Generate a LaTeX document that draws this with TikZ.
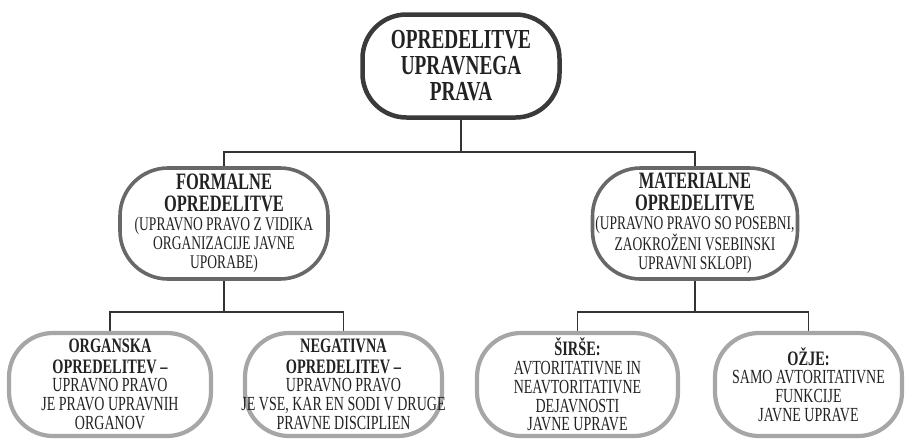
\documentclass[tikz,border=0pt]{standalone}
\usepackage{fontspec}
\setmainfont{Liberation Serif}[FakeStretch=0.7]
\usetikzlibrary{backgrounds}
\definecolor{inkc}{HTML}{222222}
\definecolor{rootline}{HTML}{3A3A3A}
\definecolor{midline}{HTML}{686868}
\definecolor{leafline}{HTML}{A6A6A6}
\definecolor{connc}{HTML}{333333}
% type sizes of the three levels
\newcommand\rootfont{\fontsize{27.5}{26}\selectfont\bfseries}
\newcommand\midhead{\fontsize{23.5}{21.5}\selectfont\bfseries}
\newcommand\midtext{\fontsize{19.3}{19}\selectfont}
\newcommand\leafhead{\fontsize{20.5}{20.5}\selectfont\bfseries}
\newcommand\leaftext{\fontsize{20}{18.8}\selectfont}
% centred block of lines that never wraps and takes no width of its own
\newcommand\lineblock[2][0pt]{\raisebox{#1}{\makebox[0pt]{\parbox{320pt}{\centering #2}}}}
\begin{document}
\begin{tikzpicture}[x=1pt,y=-1pt,
  box/.style={draw, fill=white, inner sep=0pt, text=inkc, minimum width=#1pt},
  rootbox/.style={box=197, draw=rootline, line width=4.5pt,
    rounded corners=44pt, minimum height=103pt},
  midbox/.style={box=#1, draw=midline, line width=3.6pt,
    rounded corners=48pt, minimum height=111pt},
  leafbox/.style={box=#1, draw=leafline, line width=4.2pt,
    rounded corners=44pt, minimum height=103pt},
  conn/.style={draw=connc, line width=1.3pt}]
\useasboundingbox (0,0) rectangle (906,440);

% root
\node[rootbox] (root) at (461,66)
  {\lineblock{\rootfont OPREDELITVE\\UPRAVNEGA\\PRAVA\par}};

% second level
\node[midbox=208] (formal) at (224,223.5)
  {\lineblock[-3pt]{{\midhead FORMALNE\\OPREDELITVE\par}%
   {\midtext (UPRAVNO PRAVO Z VIDIKA\\ORGANIZACIJE JAVNE\\UPORABE)\par}}};
\node[midbox=205] (material) at (695,223.5)
  {\lineblock[-3pt]{{\midhead MATERIALNE\\OPREDELITVE\par}%
   {\midtext (UPRAVNO PRAVO SO POSEBNI,\\ZAOKROŽENI VSEBINSKI\\UPRAVNI SKLOPI)\par}}};

% third level
\node[leafbox=202] (organska) at (110,384.5)
  {\lineblock[-8pt]{{\leafhead ORGANSKA\\OPREDELITEV –\par}%
   {\leaftext UPRAVNO PRAVO\\JE PRAVO UPRAVNIH\\ORGANOV\par}}};
\node[leafbox=197] (negativna) at (343.5,384.5)
  {\lineblock[-8pt]{{\leafhead NEGATIVNA\\OPREDELITEV –\par}%
   {\leaftext UPRAVNO PRAVO\\JE VSE, KAR EN SODI V DRUGE\\PRAVNE DISCIPLIEN\par}}};
\node[leafbox=201] (sirse) at (577.5,384.5)
  {\lineblock[-7pt]{{\leafhead ŠIRŠE:\par}%
   {\leaftext AVTORITATIVNE IN\\NEAVTORITATIVNE\\DEJAVNOSTI\\JAVNE UPRAVE\par}}};
\node[leafbox=187] (ozje) at (808.5,384.5)
  {\lineblock[-7pt]{{\leafhead OŽJE:\par}%
   {\leaftext SAMO AVTORITATIVNE\\FUNKCIJE\\JAVNE UPRAVE\par}}};

% junctions of the connecting lines
\coordinate (j1) at (461,152);
\coordinate (j2) at (224,312);
\coordinate (j3) at (695,312);

\begin{pgfonlayer}{background}
  \draw[conn] (root.south) -- (j1);
  \draw[conn] (formal.north) |- (j1) -| (material.north);
  \draw[conn] (formal.south) -- (j2);
  \draw[conn] (organska.north) |- (j2) -| (negativna.north);
  \draw[conn] (material.south) -- (j3);
  \draw[conn] (sirse.north) |- (j3) -| (ozje.north);
\end{pgfonlayer}
\end{tikzpicture}
\end{document}
